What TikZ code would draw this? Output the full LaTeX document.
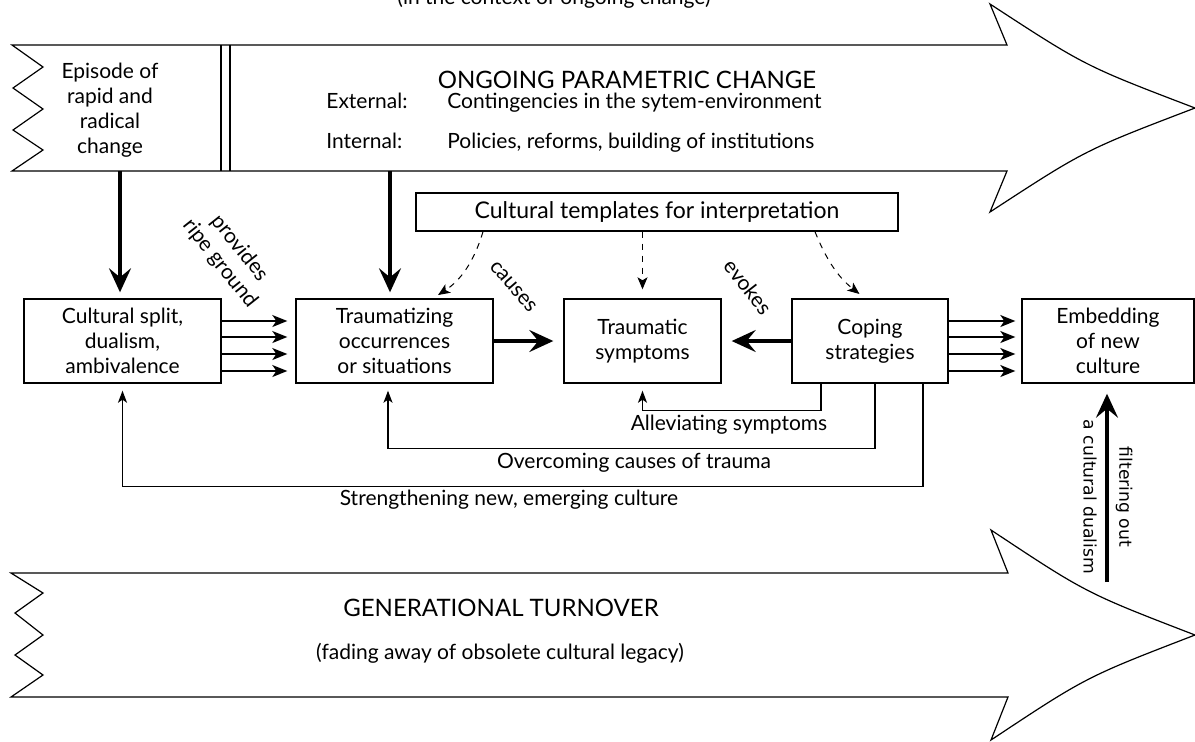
\documentclass[tikz,border=0pt]{standalone}
\usepackage{fontspec}
\setmainfont{Lato}
\newfontfamily\djv{DejaVu Sans}
\usetikzlibrary{arrows.meta}
\begin{document}
\begin{tikzpicture}[x=0.5pt,y=-0.5pt,
  box/.style={draw,line width=0.7pt,align=center,inner sep=0pt,font=\fontsize{10.5}{12.5}\selectfont},
  big/.style={draw,line width=0.6pt,fill=white},
  thickarr/.style={line width=1.6pt,-{Stealth[length=12pt,width=11pt,inset=4.5pt]}},
  smallarr/.style={line width=0.7pt,-{Stealth[length=7.5pt,width=6pt,inset=2pt]}},
  fbarr/.style={line width=0.6pt,-{Stealth[length=6pt,width=4.5pt,inset=1.5pt]}},
  dasharr/.style={line width=0.5pt,dash pattern=on 3pt off 3pt,-{Stealth[length=6pt,width=5pt,inset=1.5pt]}},
  lbl/.style={font=\fontsize{10.5}{12.5}\selectfont,inner sep=0pt,align=center},
  biglbl/.style={font=\fontsize{12}{14}\selectfont,inner sep=0pt,align=center},
  rotlbl/.style={font=\djv\fontsize{8.6}{10}\selectfont,rotate=-90,inner sep=0pt},
]
\useasboundingbox (0,0) rectangle (1195,741);

% big arrows
\draw[big] (12,45) -- (1007,45) -- (990,4) .. controls (1085,66) .. (1195,108)
  .. controls (1085,150) .. (990,212) -- (1007,171) -- (12,171) -- (43,150) -- (13,130)
  -- (43,109) -- (13,88) -- (43,67) -- cycle;
\draw[big] (11,573) -- (1008,573) -- (991,530) .. controls (1086,593) .. (1195,635)
  .. controls (1086,677) .. (991,740) -- (1008,697) -- (11,697) -- (43,675) -- (15,655)
  -- (43,635) -- (15,613) -- (43,593) -- cycle;
\draw[line width=0.6pt] (221,45) -- (221,171) (230,45) -- (230,171);

% texts in arrows
\node[lbl,anchor=base] (ctx) at (554,4) {(in the context of ongoing change)};
\node[lbl] (episode) at (110,110.5) {Episode of\\rapid and\\radical\\change};
\node[biglbl] (ongoing) at (627,80) {ONGOING PARAMETRIC CHANGE};
\node[lbl,anchor=base west] (ext) at (326,108) {External:};
\node[lbl,anchor=base west] (extt) at (447,108) {Contingencies in the sytem-environment};
\node[lbl,anchor=base west] (int) at (326,148) {Internal:};
\node[lbl,anchor=base west] (intt) at (447,148) {Policies, reforms, building of institutions};
\node[biglbl] (gen) at (501,608) {GENERATIONAL TURNOVER};
\node[lbl] (fad) at (500,653) {(fading away of obsolete cultural legacy)};

% boxes
\node[box,minimum width=98.5pt,minimum height=42pt] (split) at (122.5,341) {Cultural split,\\dualism,\\ambivalence};
\node[box,minimum width=98.5pt,minimum height=42pt] (traum) at (394.5,341) {Traumatizing\\occurrences\\or situations};
\node[box,minimum width=78.5pt,minimum height=42pt] (symp) at (642.5,341) {Traumatic\\symptoms};
\node[box,minimum width=78pt,minimum height=42pt] (coping) at (870,341) {Coping\\strategies};
\node[box,minimum width=86pt,minimum height=42pt] (embed) at (1108,341) {Embedding\\of new\\culture};
\node[box,minimum width=241pt,minimum height=19pt,font=\fontsize{11.5}{13}\selectfont] (templ) at (657,212) {Cultural templates for interpretation};

% vertical thick arrows from top
\coordinate (ep) at (120,171);
\draw[thickarr,shorten >=3pt] (ep) -- (ep |- split.north);
\coordinate (og) at (390,171);
\draw[thickarr,shorten >=3pt] (og) -- (og |- traum.north);

% multiple arrows
\foreach \y in {321,337,354,371} {
  \draw[smallarr,shorten >=4pt] (split.east |- 0,\y) -- (traum.west |- 0,\y);
  \draw[smallarr,shorten >=3pt] (coping.east |- 0,\y) -- (embed.west |- 0,\y);
}
\draw[thickarr,shorten >=5pt] (traum.east) -- (symp.west);
\draw[thickarr,shorten >=5pt] (coping.west) -- (symp.east);
\coordinate (filt) at (1107,582);
\draw[thickarr,shorten >=5pt] (filt) -- (filt |- embed.south);

% feedback loops
\path (coping.south) ++(-49,0) coordinate (c1);
\path (coping.south) ++(5,0) coordinate (c2);
\path (coping.south) ++(53,0) coordinate (c3);
\draw[fbarr,shorten >=3.5pt] (c1) -- ++(0,27) -| (symp.south);
\draw[fbarr,shorten >=3.5pt] (c2) -- ++(0,65) -| ([xshift=-3.25pt]traum.south);
\draw[fbarr,shorten >=3.5pt] (c3) -- ++(0,103) -| (split.south);

% dashed influences
\draw[dasharr,shorten >=3pt] ([xshift=-87pt]templ.south) to[bend left=20] ([xshift=19.25pt]traum.north);
\draw[dasharr,shorten >=4.5pt] (templ.south -| symp.north) -- (symp.north);
\draw[dasharr,shorten >=3.5pt] ([xshift=79pt]templ.south) to[bend right=15] ([xshift=-2.5pt]coping.north);

% labels
\node[lbl,rotate=-51.6] (prov) at (230,256) {provides\\ripe ground};
\node[lbl,rotate=-49] (causes) at (513,287) {causes};
\node[lbl,rotate=-52] (evokes) at (748,287) {evokes};
\node[lbl] (allev) at (729,425) {Alleviating symptoms};
\node[lbl] (overc) at (634,463) {Overcoming causes of trauma};
\node[lbl] (streng) at (509,500) {Strengthening new, emerging culture};
\node[rotlbl] (filt1) at (1124,497) {filtering out};
\node[rotlbl] (filt2) at (1090,497) {a cultural dualism};
\end{tikzpicture}
\end{document}
